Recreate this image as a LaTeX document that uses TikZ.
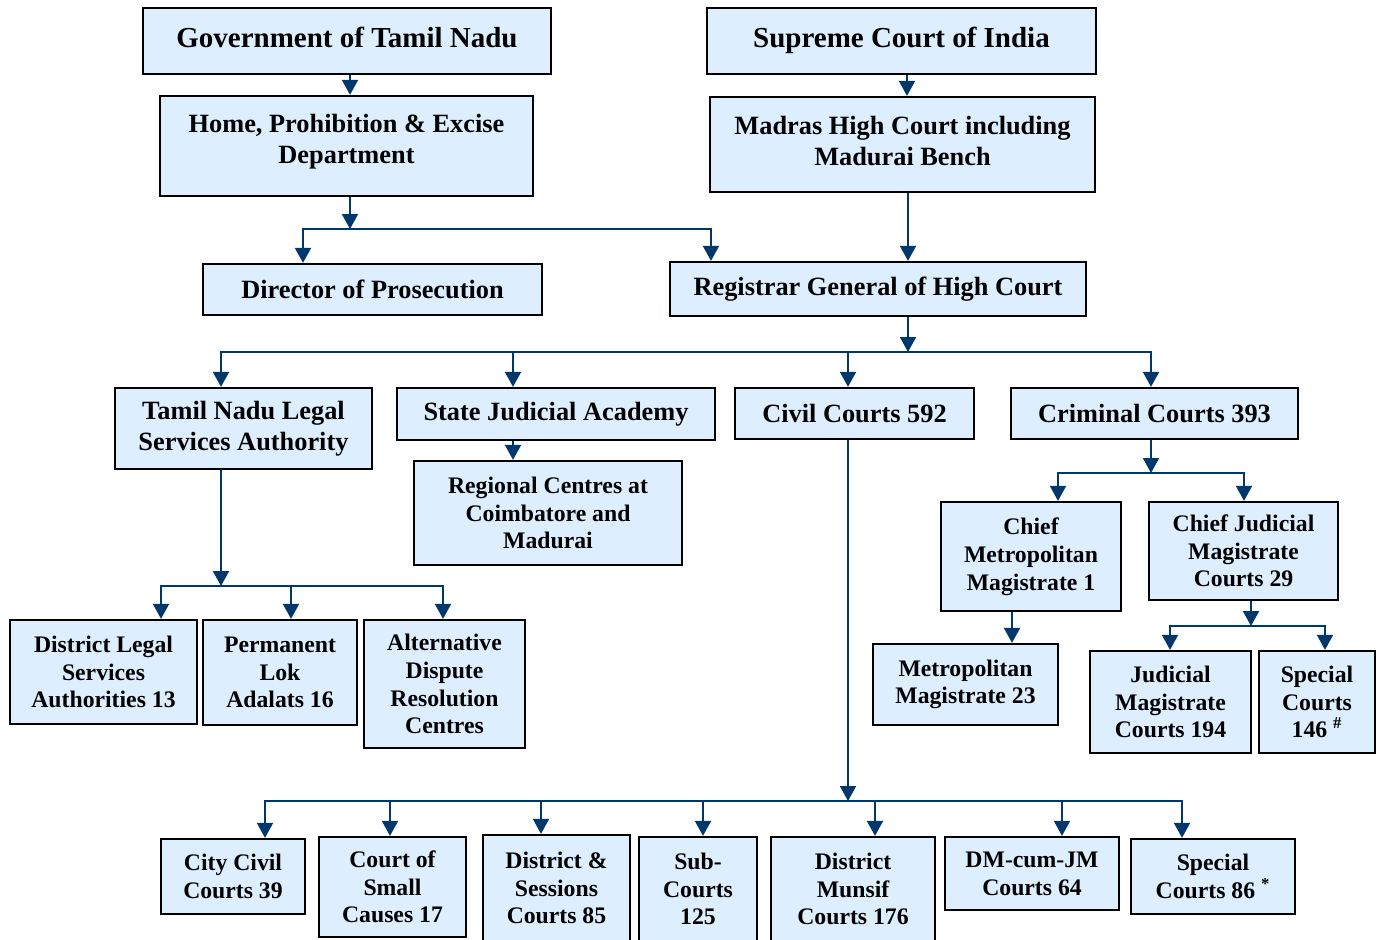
\documentclass[tikz,border=0pt]{standalone}
\usepackage{fontspec}
\setmainfont{Liberation Serif}
\usetikzlibrary{arrows.meta}
\definecolor{boxblue}{RGB}{221,238,255}
\definecolor{linkblue}{RGB}{0,56,110}

\begin{document}
\begin{tikzpicture}[x=0.02cm,y=-0.02cm,
  box/.style={draw=black,line width=1.3pt,fill=boxblue,align=center,inner sep=0pt,
    font=\bfseries\fontsize{13.5}{15.8}\selectfont},
  big/.style={font=\bfseries\fontsize{16.5}{19.5}\selectfont,text height=11pt,text depth=3.5pt},
  mid/.style={font=\bfseries\fontsize{15}{17.8}\selectfont},
  wd/.style={minimum width=#1*0.02cm},
  ht/.style={minimum height=#1*0.02cm},
  link/.style={draw=linkblue,line width=1.1pt,-{Triangle[length=0.3cm,width=0.32cm]}}]
\useasboundingbox (0,0) rectangle (1383,940);

\node[box,big,wd=408,ht=66] (gov) at (347,41) {Government of Tamil Nadu};
\node[box,big,wd=389,ht=66] (sc) at (901.5,41) {Supreme Court of India};
\node[box,mid,wd=373,ht=100] (home) at (346.5,146) {Home, Prohibition \& Excise\\Department\\[-9.8pt]};
\node[box,mid,wd=385,ht=95] (hc) at (902.5,144.5) {Madras High Court including\\Madurai Bench\\[-13.8pt]};
\node[box,mid,wd=339,ht=51] (dir) at (372.5,289.5) {Director of Prosecution};
\node[box,mid,wd=416,ht=54] (reg) at (878,289) {Registrar General of High Court};

\node[box,mid,wd=257,ht=81] (tnlsa) at (243.5,428.5) {Tamil Nadu Legal\\Services Authority};
\node[box,mid,wd=318,ht=52] (sja) at (556,414) {State Judicial Academy};
\node[box,mid,wd=239,ht=51] (civ) at (854.5,413.5) {Civil Courts 592};
\node[box,mid,wd=287,ht=51] (crim) at (1154.5,413.5) {Criminal Courts 393};

\node[box,wd=268,ht=104] (rc) at (548,513) {Regional Centres at\\Coimbatore and\\Madurai};
\node[box,wd=180,ht=109] (cmm) at (1031,556.5) {Chief\\Metropolitan\\Magistrate 1};
\node[box,wd=189,ht=98] (cjm) at (1243.5,551) {Chief Judicial\\Magistrate\\Courts 29};
\node[box,wd=185,ht=81] (mm) at (965.5,684.5) {Metropolitan\\Magistrate 23};
\node[box,wd=161,ht=102] (jmc) at (1170.5,702) {Judicial\\Magistrate\\Courts 194};
\node[box,wd=116,ht=102] (spa) at (1317,702) {Special\\Courts\\146 \textsuperscript{\#}};

\node[box,wd=187,ht=104] (dlsa) at (103.5,672) {District Legal\\Services\\Authorities 13};
\node[box,wd=154,ht=105] (plok) at (280,672.5) {Permanent\\Lok\\Adalats 16};
\node[box,wd=161,ht=128] (adr) at (444.5,684) {Alternative\\Dispute\\Resolution\\Centres};

\node[box,wd=144,ht=75] (city) at (233,876.5) {City Civil\\Courts 39};
\node[box,wd=147,ht=100] (small) at (392.5,887) {Court of\\Small\\Causes 17};
\node[box,wd=147,ht=106] (dsc) at (556.5,888) {District \&\\Sessions\\Courts 85};
\node[box,wd=118,ht=104] (sub) at (698,889) {Sub-\\Courts\\125};
\node[box,wd=164,ht=104] (dmc) at (853,889) {District\\Munsif\\Courts 176};
\node[box,wd=174,ht=73] (dmjm) at (1032,873.5) {DM-cum-JM\\Courts 64};
\node[box,wd=164,ht=75] (spb) at (1213,876.5) {Special\\Courts 86 \textsuperscript{*}};

\coordinate (hj) at (350,229);
\coordinate (rj) at (908,352);
\coordinate (lj) at (221,586);
\coordinate (cj) at (848,801);
\coordinate (kj) at (1151,473);
\coordinate (mj) at (1251,626);

\draw[link] (350,0 |- gov.south) -- (350,0 |- home.north);
\draw[link] (907,0 |- sc.south) -- (907,0 |- hc.north);
\draw[link] (350,0 |- home.south) -- (hj);
\draw[link] (hj) -| (303,0 |- dir.north);
\draw[link] (hj) -| (711,0 |- reg.north);
\draw[link] (908,0 |- hc.south) -- (908,0 |- reg.north);
\draw[link] (908,0 |- reg.south) -- (rj);
\foreach \x/\n in {221/tnlsa,513/sja,848/civ,1151/crim}
  \draw[link] (rj) -| (\x,0 |- \n.north);
\draw[link] (513,0 |- sja.south) -- (513,0 |- rc.north);
\draw[link] (221,0 |- tnlsa.south) -- (lj);
\foreach \x/\n in {161/dlsa,291/plok,443/adr}
  \draw[link] (lj) -| (\x,0 |- \n.north);
\draw[link] (848,0 |- civ.south) -- (cj);
\foreach \x/\n in {265/city,390/small,541/dsc,703/sub,875/dmc,1062/dmjm,1182/spb}
  \draw[link] (cj) -| (\x,0 |- \n.north);
\draw[link] (1151,0 |- crim.south) -- (kj);
\foreach \x/\n in {1058/cmm,1244/cjm}
  \draw[link] (kj) -| (\x,0 |- \n.north);
\draw[link] (1012,0 |- cmm.south) -- (1012,0 |- mm.north);
\draw[link] (1251,0 |- cjm.south) -- (mj);
\foreach \x/\n in {1170/jmc,1325/spa}
  \draw[link] (mj) -| (\x,0 |- \n.north);
\end{tikzpicture}
\end{document}
